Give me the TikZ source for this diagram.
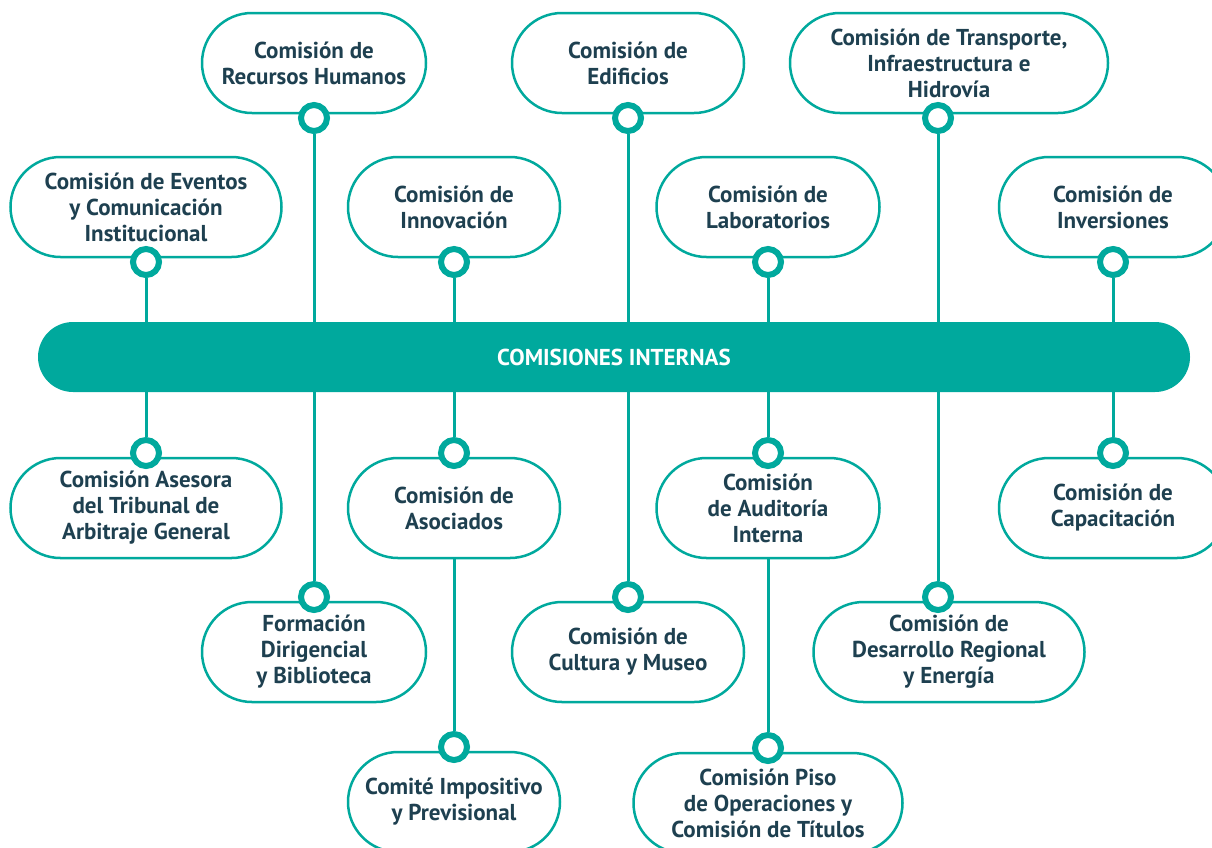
\documentclass[tikz,border=0pt]{standalone}
\usepackage{fontspec}
\setmainfont{PT Sans}
\usetikzlibrary{calc,backgrounds}

\definecolor{comteal}{HTML}{00A99D}
\definecolor{comink}{HTML}{1E4050}

\begin{document}
\begin{tikzpicture}[x=1pt, y=-1pt,
    box/.style={draw=comteal, line width=2.5pt, fill=white, rounded corners=50pt,
                minimum height=100pt, minimum width=#1, inner sep=0pt, outer sep=0pt,
                align=center, text=comink, font=\fontsize{23}{26}\selectfont\bfseries},
    dot/.style={circle, draw=comteal, line width=6pt, fill=white, minimum size=26pt, inner sep=0pt},
    link/.style={draw=comteal, line width=3pt}]

    \useasboundingbox (0,0) rectangle (1212,847);
    \clip (0,0) rectangle (1212,847);

    % central bar
    \node[fill=comteal, rounded corners=35pt, minimum width=1152pt, minimum height=70pt,
          text=white, font=\fontsize{23}{26}\selectfont\bfseries] (hub) at (614,357) {COMISIONES INTERNAS};

    % upper committees
    \node[box=224pt] (rrhh)         at (314,63)  {Comisión de\\Recursos Humanos};
    \node[box=232pt] (edificios)    at (628,63)  {Comisión de\\Edificios};
    \node[box=318pt] (transporte)   at (949,63)  {Comisión de Transporte,\\Infraestructura e\\Hidrovía};
    \node[box=271pt] (eventos)      at (146,207) {Comisión de Eventos\\y Comunicación\\Institucional};
    \node[box=212pt] (innovacion)   at (454,207) {Comisión de\\Innovación};
    \node[box=223pt] (laboratorios) at (768,207) {Comisión de\\Laboratorios};
    \node[box=228pt] (inversiones)  at (1113,207) {Comisión de\\Inversiones};

    % lower committees
    \node[box=271pt] (asesora)      at (146,508) {Comisión Asesora\\del Tribunal de\\Arbitraje General};
    \node[box=212pt] (asociados)    at (454,508) {Comisión de\\Asociados};
    \node[box=223pt] (auditoria)    at (768,508) {Comisión\\de Auditoría\\Interna};
    \node[box=228pt] (capacitacion) at (1113,508) {Comisión de\\Capacitación};
    \node[box=224pt] (formacion)    at (314,652) {Formación\\Dirigencial\\y Biblioteca};
    \node[box=232pt] (cultura)      at (628,652) {Comisión de\\Cultura y Museo};
    \node[box=271pt] (desarrollo)   at (949,652) {Comisión de\\Desarrollo Regional\\y Energía};
    \node[box=212pt] (impositivo)   at (454,802) {Comité Impositivo\\y Previsional};
    \node[box=269pt] (piso)         at (768,803) {Comisión Piso\\de Operaciones y\\Comisión de Títulos};

    % dots
    \node[dot] (d-rrhh)         at ($(rrhh.south)+(0,5)$) {};
    \node[dot] (d-edificios)    at ($(edificios.south)+(0,5)$) {};
    \node[dot] (d-transporte)   at ($(transporte.south)+(-11,5)$) {};
    \node[dot] (d-eventos)      at ($(eventos.south)+(0,5)$) {};
    \node[dot] (d-innovacion)   at ($(innovacion.south)+(0,5)$) {};
    \node[dot] (d-laboratorios) at ($(laboratorios.south)+(0,5)$) {};
    \node[dot] (d-inversiones)  at ($(inversiones.south)+(0,5)$) {};
    \node[dot] (d-asesora)      at ($(asesora.north)+(0,-5)$) {};
    \node[dot] (d-asociados)    at ($(asociados.north)+(0,-5)$) {};
    \node[dot] (d-auditoria)    at ($(auditoria.north)+(0,-5)$) {};
    \node[dot] (d-capacitacion) at ($(capacitacion.north)+(0,-5)$) {};
    \node[dot] (d-formacion)    at ($(formacion.north)+(0,-5)$) {};
    \node[dot] (d-cultura)      at ($(cultura.north)+(0,-5)$) {};
    \node[dot] (d-desarrollo)   at ($(desarrollo.north)+(-11,-5)$) {};
    \node[dot] (d-impositivo)   at ($(impositivo.north)+(0,-5)$) {};
    \node[dot] (d-piso)         at ($(piso.north)+(0,-5)$) {};

    % connectors
    \begin{pgfonlayer}{background}
        \foreach \d in {d-rrhh,d-edificios,d-transporte,d-eventos,d-innovacion,d-laboratorios,d-inversiones,
                        d-asesora,d-asociados,d-auditoria,d-capacitacion,d-formacion,d-cultura,d-desarrollo}
            \draw[link] (\d) -- (\d |- hub);
        \draw[link] (asociados) -- (d-impositivo);
        \draw[link] (auditoria) -- (d-piso);
    \end{pgfonlayer}
\end{tikzpicture}
\end{document}
